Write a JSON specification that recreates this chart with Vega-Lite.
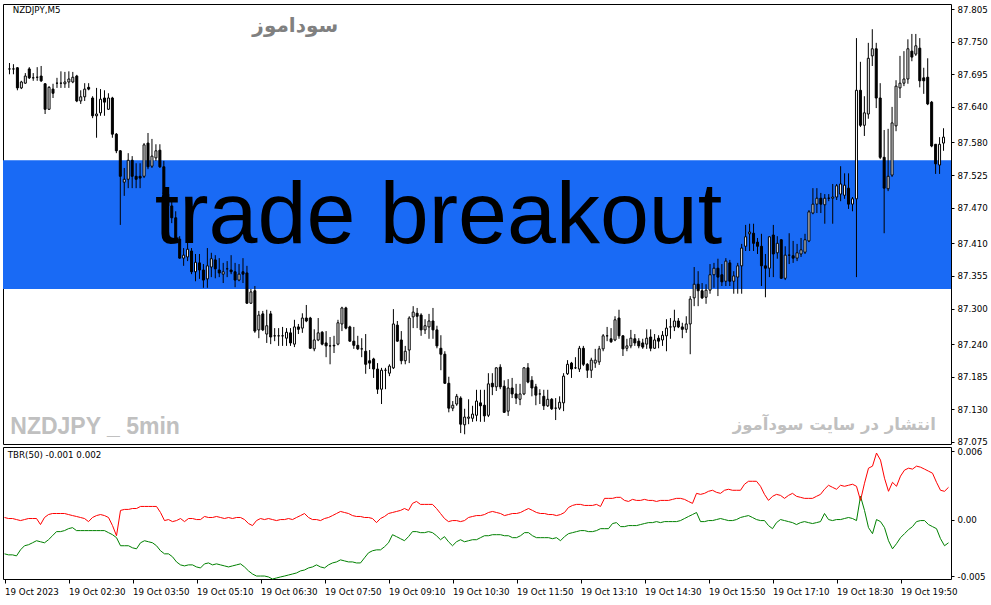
{
"$schema": "https://vega.github.io/schema/vega-lite/v6.json",
"background": "white",
"padding": {"left": 2, "top": 3, "right": 0, "bottom": 0},
"spacing": 3,
"bounds": "flush",
"config": {"view": {"stroke": "black", "strokeWidth": 1}, "axis": {"labelFont": "DejaVu Sans", "labelFontSize": 8.7, "labelColor": "black", "tickColor": "black", "domain": false, "grid": false, "labelOverlap": false}},
"datasets": {
"band": [{"lo": 87.333, "hi": 87.55}],
"notes": [
{"label":"NZDJPY,M5","t":"2023-10-19T01:14","p":87.803},
{"label":"سوداموز","t":"2023-10-19T07:11","p":87.776},
{"label":"trade breakout","t":"2023-10-19T10:12","p":87.41},
{"label":"NZDJPY _ 5min","t":"2023-10-19T01:11","p":87.088},
{"label":"انتشار در سایت سودآموز","t":"2023-10-19T18:32","p":87.104},
{"label":"TBR(50) -0.001 0.002","t":"2023-10-19T01:14","v":0.00566}
],
"bars": [
{"t":"2023-10-19T01:10","o":87.704,"h":87.714,"l":87.695,"c":87.704,"r":0.00018,"g":-0.00301},
{"t":"2023-10-19T01:15","o":87.704,"h":87.712,"l":87.695,"c":87.704,"r":0.00009,"g":-0.0031},
{"t":"2023-10-19T01:20","o":87.706,"h":87.707,"l":87.668,"c":87.672,"r":0.00009,"g":-0.0031},
{"t":"2023-10-19T01:25","o":87.672,"h":87.684,"l":87.670,"c":87.682,"r":0,"g":-0.00319},
{"t":"2023-10-19T01:30","o":87.680,"h":87.697,"l":87.679,"c":87.692,"r":-0.00009,"g":-0.00266},
{"t":"2023-10-19T01:35","o":87.704,"h":87.707,"l":87.687,"c":87.689,"r":0,"g":-0.0023},
{"t":"2023-10-19T01:40","o":87.689,"h":87.697,"l":87.684,"c":87.689,"r":0.00009,"g":-0.00221},
{"t":"2023-10-19T01:45","o":87.690,"h":87.707,"l":87.684,"c":87.690,"r":0.00009,"g":-0.00204},
{"t":"2023-10-19T01:50","o":87.692,"h":87.709,"l":87.682,"c":87.684,"r":0.00009,"g":-0.00186},
{"t":"2023-10-19T01:55","o":87.679,"h":87.680,"l":87.628,"c":87.636,"r":-0.00044,"g":-0.00195},
{"t":"2023-10-19T02:00","o":87.636,"h":87.675,"l":87.635,"c":87.673,"r":0.00018,"g":-0.00204},
{"t":"2023-10-19T02:05","o":87.670,"h":87.679,"l":87.655,"c":87.663,"r":0.00044,"g":-0.00177},
{"t":"2023-10-19T02:10","o":87.680,"h":87.689,"l":87.672,"c":87.680,"r":0.00053,"g":-0.00142},
{"t":"2023-10-19T02:15","o":87.680,"h":87.700,"l":87.672,"c":87.680,"r":0.00053,"g":-0.00106},
{"t":"2023-10-19T02:20","o":87.679,"h":87.699,"l":87.672,"c":87.682,"r":0.00053,"g":-0.00106},
{"t":"2023-10-19T02:25","o":87.682,"h":87.700,"l":87.672,"c":87.687,"r":0.00053,"g":-0.00097},
{"t":"2023-10-19T02:30","o":87.682,"h":87.699,"l":87.680,"c":87.690,"r":0.00044,"g":-0.0008},
{"t":"2023-10-19T02:35","o":87.692,"h":87.694,"l":87.648,"c":87.650,"r":0.00035,"g":-0.00071},
{"t":"2023-10-19T02:40","o":87.650,"h":87.668,"l":87.645,"c":87.657,"r":0.00027,"g":-0.00097},
{"t":"2023-10-19T02:45","o":87.657,"h":87.680,"l":87.650,"c":87.670,"r":0.00018,"g":-0.00097},
{"t":"2023-10-19T02:50","o":87.673,"h":87.680,"l":87.668,"c":87.670,"r":0.00009,"g":-0.00097},
{"t":"2023-10-19T02:55","o":87.655,"h":87.658,"l":87.621,"c":87.625,"r":-0.00018,"g":-0.00097},
{"t":"2023-10-19T03:00","o":87.625,"h":87.672,"l":87.588,"c":87.628,"r":0.00018,"g":-0.00097},
{"t":"2023-10-19T03:05","o":87.630,"h":87.670,"l":87.625,"c":87.653,"r":0.00035,"g":-0.00097},
{"t":"2023-10-19T03:10","o":87.655,"h":87.668,"l":87.625,"c":87.648,"r":0.00044,"g":-0.00097},
{"t":"2023-10-19T03:15","o":87.636,"h":87.663,"l":87.635,"c":87.655,"r":0.00035,"g":-0.00097},
{"t":"2023-10-19T03:20","o":87.655,"h":87.657,"l":87.588,"c":87.594,"r":0.00018,"g":-0.00115},
{"t":"2023-10-19T03:25","o":87.594,"h":87.596,"l":87.562,"c":87.566,"r":-0.00053,"g":-0.00133},
{"t":"2023-10-19T03:30","o":87.566,"h":87.567,"l":87.441,"c":87.523,"r":-0.00142,"g":-0.00159},
{"t":"2023-10-19T03:35","o":87.513,"h":87.537,"l":87.490,"c":87.518,"r":0.0008,"g":-0.0023},
{"t":"2023-10-19T03:40","o":87.518,"h":87.562,"l":87.503,"c":87.550,"r":0.00089,"g":-0.0023},
{"t":"2023-10-19T03:45","o":87.550,"h":87.557,"l":87.503,"c":87.523,"r":0.00089,"g":-0.0023},
{"t":"2023-10-19T03:50","o":87.523,"h":87.545,"l":87.503,"c":87.518,"r":0.00097,"g":-0.00248},
{"t":"2023-10-19T03:55","o":87.523,"h":87.545,"l":87.503,"c":87.520,"r":0.00097,"g":-0.00257},
{"t":"2023-10-19T04:00","o":87.523,"h":87.579,"l":87.520,"c":87.576,"r":0.00115,"g":-0.00204},
{"t":"2023-10-19T04:05","o":87.579,"h":87.596,"l":87.535,"c":87.539,"r":0.00115,"g":-0.00186},
{"t":"2023-10-19T04:10","o":87.540,"h":87.586,"l":87.537,"c":87.557,"r":0.00115,"g":-0.00195},
{"t":"2023-10-19T04:15","o":87.554,"h":87.577,"l":87.549,"c":87.566,"r":0.00115,"g":-0.00204},
{"t":"2023-10-19T04:20","o":87.567,"h":87.577,"l":87.537,"c":87.539,"r":0.00115,"g":-0.0023},
{"t":"2023-10-19T04:25","o":87.539,"h":87.549,"l":87.490,"c":87.493,"r":0.00062,"g":-0.00274},
{"t":"2023-10-19T04:30","o":87.493,"h":87.502,"l":87.464,"c":87.473,"r":-0.00009,"g":-0.00301},
{"t":"2023-10-19T04:35","o":87.473,"h":87.481,"l":87.444,"c":87.453,"r":0,"g":-0.00301},
{"t":"2023-10-19T04:40","o":87.453,"h":87.464,"l":87.414,"c":87.417,"r":-0.00018,"g":-0.00327},
{"t":"2023-10-19T04:45","o":87.417,"h":87.422,"l":87.384,"c":87.385,"r":-0.00009,"g":-0.00372},
{"t":"2023-10-19T04:50","o":87.385,"h":87.402,"l":87.372,"c":87.390,"r":0.00009,"g":-0.00398},
{"t":"2023-10-19T04:55","o":87.387,"h":87.422,"l":87.380,"c":87.400,"r":-0.00018,"g":-0.00407},
{"t":"2023-10-19T05:00","o":87.397,"h":87.402,"l":87.358,"c":87.362,"r":0.00009,"g":-0.00398},
{"t":"2023-10-19T05:05","o":87.362,"h":87.392,"l":87.346,"c":87.378,"r":0.00009,"g":-0.00398},
{"t":"2023-10-19T05:10","o":87.377,"h":87.392,"l":87.350,"c":87.365,"r":0,"g":-0.00416},
{"t":"2023-10-19T05:15","o":87.365,"h":87.375,"l":87.335,"c":87.348,"r":0,"g":-0.00425},
{"t":"2023-10-19T05:20","o":87.350,"h":87.402,"l":87.335,"c":87.372,"r":0.00027,"g":-0.00389},
{"t":"2023-10-19T05:25","o":87.370,"h":87.394,"l":87.353,"c":87.384,"r":0.00018,"g":-0.00381},
{"t":"2023-10-19T05:30","o":87.382,"h":87.390,"l":87.351,"c":87.367,"r":0.00018,"g":-0.00398},
{"t":"2023-10-19T05:35","o":87.365,"h":87.385,"l":87.353,"c":87.360,"r":0.00027,"g":-0.00389},
{"t":"2023-10-19T05:40","o":87.358,"h":87.377,"l":87.343,"c":87.362,"r":0.00018,"g":-0.00398},
{"t":"2023-10-19T05:45","o":87.367,"h":87.380,"l":87.353,"c":87.367,"r":0.00009,"g":-0.00407},
{"t":"2023-10-19T05:50","o":87.365,"h":87.390,"l":87.358,"c":87.362,"r":0.00018,"g":-0.00416},
{"t":"2023-10-19T05:55","o":87.362,"h":87.377,"l":87.336,"c":87.348,"r":0.00009,"g":-0.00407},
{"t":"2023-10-19T06:00","o":87.348,"h":87.375,"l":87.346,"c":87.358,"r":0.00018,"g":-0.00398},
{"t":"2023-10-19T06:05","o":87.362,"h":87.385,"l":87.343,"c":87.358,"r":0.00018,"g":-0.00389},
{"t":"2023-10-19T06:10","o":87.360,"h":87.372,"l":87.308,"c":87.309,"r":0,"g":-0.00416},
{"t":"2023-10-19T06:15","o":87.309,"h":87.333,"l":87.308,"c":87.328,"r":-0.00035,"g":-0.00451},
{"t":"2023-10-19T06:20","o":87.330,"h":87.338,"l":87.259,"c":87.262,"r":-0.00053,"g":-0.00478},
{"t":"2023-10-19T06:25","o":87.264,"h":87.296,"l":87.250,"c":87.289,"r":-0.00009,"g":-0.00496},
{"t":"2023-10-19T06:30","o":87.291,"h":87.296,"l":87.262,"c":87.264,"r":0.00009,"g":-0.00496},
{"t":"2023-10-19T06:35","o":87.257,"h":87.298,"l":87.242,"c":87.271,"r":0,"g":-0.00496},
{"t":"2023-10-19T06:40","o":87.291,"h":87.296,"l":87.240,"c":87.252,"r":0.00009,"g":-0.00504},
{"t":"2023-10-19T06:45","o":87.254,"h":87.267,"l":87.245,"c":87.254,"r":0,"g":-0.00522},
{"t":"2023-10-19T06:50","o":87.254,"h":87.267,"l":87.237,"c":87.254,"r":-0.00009,"g":-0.00513},
{"t":"2023-10-19T06:55","o":87.254,"h":87.269,"l":87.237,"c":87.254,"r":0,"g":-0.00504},
{"t":"2023-10-19T07:00","o":87.250,"h":87.267,"l":87.237,"c":87.260,"r":0,"g":-0.00496},
{"t":"2023-10-19T07:05","o":87.259,"h":87.267,"l":87.237,"c":87.242,"r":0.00009,"g":-0.00487},
{"t":"2023-10-19T07:10","o":87.240,"h":87.281,"l":87.235,"c":87.269,"r":0,"g":-0.00478},
{"t":"2023-10-19T07:15","o":87.269,"h":87.274,"l":87.257,"c":87.265,"r":0.00018,"g":-0.00469},
{"t":"2023-10-19T07:20","o":87.267,"h":87.292,"l":87.259,"c":87.284,"r":0.00035,"g":-0.00451},
{"t":"2023-10-19T07:25","o":87.284,"h":87.306,"l":87.277,"c":87.279,"r":0.00053,"g":-0.00443},
{"t":"2023-10-19T07:30","o":87.284,"h":87.286,"l":87.232,"c":87.233,"r":0.00018,"g":-0.00425},
{"t":"2023-10-19T07:35","o":87.232,"h":87.265,"l":87.228,"c":87.247,"r":0,"g":-0.00416},
{"t":"2023-10-19T07:40","o":87.247,"h":87.284,"l":87.245,"c":87.259,"r":0,"g":-0.00398},
{"t":"2023-10-19T07:45","o":87.260,"h":87.262,"l":87.238,"c":87.240,"r":-0.00009,"g":-0.00416},
{"t":"2023-10-19T07:50","o":87.242,"h":87.262,"l":87.218,"c":87.237,"r":0.00009,"g":-0.00425},
{"t":"2023-10-19T07:55","o":87.237,"h":87.252,"l":87.206,"c":87.237,"r":0.00018,"g":-0.00398},
{"t":"2023-10-19T08:00","o":87.238,"h":87.254,"l":87.225,"c":87.237,"r":0.00035,"g":-0.00381},
{"t":"2023-10-19T08:05","o":87.240,"h":87.281,"l":87.238,"c":87.276,"r":0.00053,"g":-0.00372},
{"t":"2023-10-19T08:10","o":87.274,"h":87.303,"l":87.262,"c":87.301,"r":0.00071,"g":-0.00354},
{"t":"2023-10-19T08:15","o":87.301,"h":87.303,"l":87.265,"c":87.267,"r":0.00062,"g":-0.00363},
{"t":"2023-10-19T08:20","o":87.269,"h":87.271,"l":87.244,"c":87.245,"r":0.00053,"g":-0.00372},
{"t":"2023-10-19T08:25","o":87.245,"h":87.269,"l":87.232,"c":87.238,"r":0.00035,"g":-0.00372},
{"t":"2023-10-19T08:30","o":87.238,"h":87.254,"l":87.230,"c":87.232,"r":0.00027,"g":-0.00381},
{"t":"2023-10-19T08:35","o":87.232,"h":87.250,"l":87.218,"c":87.232,"r":0.00027,"g":-0.00381},
{"t":"2023-10-19T08:40","o":87.228,"h":87.257,"l":87.190,"c":87.206,"r":0.00018,"g":-0.00336},
{"t":"2023-10-19T08:45","o":87.212,"h":87.230,"l":87.198,"c":87.208,"r":0.00018,"g":-0.00292},
{"t":"2023-10-19T08:50","o":87.215,"h":87.217,"l":87.183,"c":87.198,"r":0.00009,"g":-0.00274},
{"t":"2023-10-19T08:55","o":87.198,"h":87.208,"l":87.156,"c":87.164,"r":-0.00027,"g":-0.00266},
{"t":"2023-10-19T09:00","o":87.164,"h":87.200,"l":87.139,"c":87.196,"r":0.00009,"g":-0.00266},
{"t":"2023-10-19T09:05","o":87.196,"h":87.200,"l":87.164,"c":87.196,"r":0.00027,"g":-0.00239},
{"t":"2023-10-19T09:10","o":87.191,"h":87.206,"l":87.186,"c":87.203,"r":0.00053,"g":-0.00204},
{"t":"2023-10-19T09:15","o":87.200,"h":87.299,"l":87.198,"c":87.274,"r":0.00062,"g":-0.00133},
{"t":"2023-10-19T09:20","o":87.272,"h":87.279,"l":87.244,"c":87.245,"r":0.00071,"g":-0.0015},
{"t":"2023-10-19T09:25","o":87.247,"h":87.262,"l":87.206,"c":87.212,"r":0.0008,"g":-0.00168},
{"t":"2023-10-19T09:30","o":87.212,"h":87.237,"l":87.206,"c":87.228,"r":0.00097,"g":-0.00186},
{"t":"2023-10-19T09:35","o":87.230,"h":87.287,"l":87.208,"c":87.284,"r":0.0008,"g":-0.0015},
{"t":"2023-10-19T09:40","o":87.286,"h":87.304,"l":87.267,"c":87.294,"r":0.00142,"g":-0.00106},
{"t":"2023-10-19T09:45","o":87.292,"h":87.301,"l":87.267,"c":87.287,"r":0.00159,"g":-0.00106},
{"t":"2023-10-19T09:50","o":87.289,"h":87.292,"l":87.254,"c":87.264,"r":0.00133,"g":-0.00115},
{"t":"2023-10-19T09:55","o":87.264,"h":87.282,"l":87.257,"c":87.271,"r":0.00133,"g":-0.00115},
{"t":"2023-10-19T10:00","o":87.269,"h":87.291,"l":87.249,"c":87.279,"r":0.00133,"g":-0.00106},
{"t":"2023-10-19T10:05","o":87.279,"h":87.301,"l":87.249,"c":87.264,"r":0.00133,"g":-0.00115},
{"t":"2023-10-19T10:10","o":87.264,"h":87.271,"l":87.233,"c":87.237,"r":0.00097,"g":-0.00142},
{"t":"2023-10-19T10:15","o":87.233,"h":87.255,"l":87.196,"c":87.223,"r":0.00053,"g":-0.00177},
{"t":"2023-10-19T10:20","o":87.223,"h":87.228,"l":87.173,"c":87.174,"r":0.00009,"g":-0.0015},
{"t":"2023-10-19T10:25","o":87.174,"h":87.185,"l":87.125,"c":87.132,"r":-0.00018,"g":-0.00195},
{"t":"2023-10-19T10:30","o":87.132,"h":87.144,"l":87.127,"c":87.137,"r":-0.00009,"g":-0.0023},
{"t":"2023-10-19T10:35","o":87.139,"h":87.156,"l":87.136,"c":87.152,"r":-0.00009,"g":-0.00195},
{"t":"2023-10-19T10:40","o":87.149,"h":87.152,"l":87.090,"c":87.105,"r":-0.00018,"g":-0.00177},
{"t":"2023-10-19T10:45","o":87.104,"h":87.131,"l":87.088,"c":87.117,"r":-0.00009,"g":-0.00195},
{"t":"2023-10-19T10:50","o":87.115,"h":87.147,"l":87.105,"c":87.117,"r":0.00018,"g":-0.00186},
{"t":"2023-10-19T10:55","o":87.115,"h":87.136,"l":87.109,"c":87.122,"r":0.00027,"g":-0.00177},
{"t":"2023-10-19T11:00","o":87.120,"h":87.163,"l":87.110,"c":87.144,"r":0.00035,"g":-0.00177},
{"t":"2023-10-19T11:05","o":87.141,"h":87.163,"l":87.109,"c":87.136,"r":0.00035,"g":-0.00159},
{"t":"2023-10-19T11:10","o":87.137,"h":87.163,"l":87.109,"c":87.119,"r":0.00044,"g":-0.00142},
{"t":"2023-10-19T11:15","o":87.120,"h":87.191,"l":87.117,"c":87.173,"r":0.00062,"g":-0.00142},
{"t":"2023-10-19T11:20","o":87.174,"h":87.191,"l":87.154,"c":87.168,"r":0.00071,"g":-0.00133},
{"t":"2023-10-19T11:25","o":87.168,"h":87.201,"l":87.161,"c":87.200,"r":0.00062,"g":-0.00133},
{"t":"2023-10-19T11:30","o":87.201,"h":87.206,"l":87.164,"c":87.168,"r":0.00053,"g":-0.00133},
{"t":"2023-10-19T11:35","o":87.169,"h":87.179,"l":87.124,"c":87.125,"r":0.00035,"g":-0.00142},
{"t":"2023-10-19T11:40","o":87.127,"h":87.181,"l":87.119,"c":87.166,"r":0.00044,"g":-0.00142},
{"t":"2023-10-19T11:45","o":87.166,"h":87.183,"l":87.149,"c":87.156,"r":0.00053,"g":-0.00159},
{"t":"2023-10-19T11:50","o":87.156,"h":87.173,"l":87.139,"c":87.149,"r":0.00053,"g":-0.00159},
{"t":"2023-10-19T11:55","o":87.147,"h":87.173,"l":87.137,"c":87.156,"r":0.00062,"g":-0.00142},
{"t":"2023-10-19T12:00","o":87.156,"h":87.201,"l":87.154,"c":87.200,"r":0.0008,"g":-0.00115},
{"t":"2023-10-19T12:05","o":87.200,"h":87.208,"l":87.174,"c":87.176,"r":0.00097,"g":-0.00115},
{"t":"2023-10-19T12:10","o":87.179,"h":87.186,"l":87.152,"c":87.166,"r":0.0008,"g":-0.00142},
{"t":"2023-10-19T12:15","o":87.168,"h":87.173,"l":87.137,"c":87.154,"r":0.00062,"g":-0.00159},
{"t":"2023-10-19T12:20","o":87.156,"h":87.164,"l":87.139,"c":87.156,"r":0.00053,"g":-0.00159},
{"t":"2023-10-19T12:25","o":87.152,"h":87.163,"l":87.129,"c":87.136,"r":0.00053,"g":-0.00159},
{"t":"2023-10-19T12:30","o":87.136,"h":87.163,"l":87.134,"c":87.147,"r":0.00044,"g":-0.00159},
{"t":"2023-10-19T12:35","o":87.147,"h":87.149,"l":87.129,"c":87.131,"r":0.00044,"g":-0.00168},
{"t":"2023-10-19T12:40","o":87.132,"h":87.149,"l":87.112,"c":87.132,"r":0.00035,"g":-0.00159},
{"t":"2023-10-19T12:45","o":87.132,"h":87.152,"l":87.129,"c":87.142,"r":0.00044,"g":-0.00186},
{"t":"2023-10-19T12:50","o":87.141,"h":87.191,"l":87.127,"c":87.186,"r":0.00062,"g":-0.0015},
{"t":"2023-10-19T12:55","o":87.190,"h":87.213,"l":87.188,"c":87.206,"r":0.00106,"g":-0.00124},
{"t":"2023-10-19T13:00","o":87.208,"h":87.210,"l":87.183,"c":87.198,"r":0.00124,"g":-0.00115},
{"t":"2023-10-19T13:05","o":87.200,"h":87.218,"l":87.198,"c":87.200,"r":0.00133,"g":-0.00106},
{"t":"2023-10-19T13:10","o":87.198,"h":87.237,"l":87.193,"c":87.233,"r":0.00133,"g":-0.00097},
{"t":"2023-10-19T13:15","o":87.233,"h":87.237,"l":87.203,"c":87.206,"r":0.00124,"g":-0.00097},
{"t":"2023-10-19T13:20","o":87.206,"h":87.208,"l":87.183,"c":87.196,"r":0.00124,"g":-0.00106},
{"t":"2023-10-19T13:25","o":87.196,"h":87.217,"l":87.183,"c":87.213,"r":0.00124,"g":-0.00106},
{"t":"2023-10-19T13:30","o":87.208,"h":87.232,"l":87.200,"c":87.213,"r":0.00133,"g":-0.00097},
{"t":"2023-10-19T13:35","o":87.210,"h":87.237,"l":87.205,"c":87.232,"r":0.00115,"g":-0.0008},
{"t":"2023-10-19T13:40","o":87.232,"h":87.257,"l":87.228,"c":87.254,"r":0.00186,"g":-0.0008},
{"t":"2023-10-19T13:45","o":87.254,"h":87.269,"l":87.245,"c":87.254,"r":0.00186,"g":-0.0008},
{"t":"2023-10-19T13:50","o":87.249,"h":87.267,"l":87.242,"c":87.244,"r":0.00186,"g":-0.00035},
{"t":"2023-10-19T13:55","o":87.247,"h":87.287,"l":87.245,"c":87.281,"r":0.00195,"g":-0.00027},
{"t":"2023-10-19T14:00","o":87.284,"h":87.298,"l":87.249,"c":87.254,"r":0.00195,"g":-0.00062},
{"t":"2023-10-19T14:05","o":87.254,"h":87.255,"l":87.220,"c":87.232,"r":0.00168,"g":-0.00062},
{"t":"2023-10-19T14:10","o":87.233,"h":87.249,"l":87.228,"c":87.237,"r":0.00159,"g":-0.00053},
{"t":"2023-10-19T14:15","o":87.237,"h":87.264,"l":87.233,"c":87.250,"r":0.00177,"g":-0.00053},
{"t":"2023-10-19T14:20","o":87.249,"h":87.257,"l":87.237,"c":87.242,"r":0.00168,"g":-0.00053},
{"t":"2023-10-19T14:25","o":87.245,"h":87.250,"l":87.233,"c":87.237,"r":0.00168,"g":-0.00044},
{"t":"2023-10-19T14:30","o":87.242,"h":87.249,"l":87.232,"c":87.235,"r":0.00177,"g":-0.00035},
{"t":"2023-10-19T14:35","o":87.240,"h":87.265,"l":87.232,"c":87.250,"r":0.00168,"g":-0.00027},
{"t":"2023-10-19T14:40","o":87.252,"h":87.265,"l":87.228,"c":87.233,"r":0.00168,"g":-0.00027},
{"t":"2023-10-19T14:45","o":87.233,"h":87.257,"l":87.232,"c":87.247,"r":0.00159,"g":-0.00018},
{"t":"2023-10-19T14:50","o":87.250,"h":87.255,"l":87.233,"c":87.245,"r":0.00168,"g":-0.00027},
{"t":"2023-10-19T14:55","o":87.247,"h":87.262,"l":87.237,"c":87.255,"r":0.00168,"g":-0.00018},
{"t":"2023-10-19T15:00","o":87.254,"h":87.282,"l":87.228,"c":87.267,"r":0.00168,"g":-0.00018},
{"t":"2023-10-19T15:05","o":87.269,"h":87.284,"l":87.249,"c":87.269,"r":0.00177,"g":-0.00018},
{"t":"2023-10-19T15:10","o":87.269,"h":87.298,"l":87.262,"c":87.279,"r":0.00186,"g":-0.00018},
{"t":"2023-10-19T15:15","o":87.279,"h":87.284,"l":87.267,"c":87.269,"r":0.00186,"g":-0.00009},
{"t":"2023-10-19T15:20","o":87.269,"h":87.276,"l":87.250,"c":87.265,"r":0.00177,"g":0.00009},
{"t":"2023-10-19T15:25","o":87.265,"h":87.287,"l":87.259,"c":87.274,"r":0.00159,"g":0.00027},
{"t":"2023-10-19T15:30","o":87.274,"h":87.321,"l":87.223,"c":87.316,"r":0.00142,"g":0.00044},
{"t":"2023-10-19T15:35","o":87.318,"h":87.370,"l":87.304,"c":87.341,"r":0.0023,"g":0.00062},
{"t":"2023-10-19T15:40","o":87.341,"h":87.363,"l":87.304,"c":87.330,"r":0.00221,"g":-0.00018},
{"t":"2023-10-19T15:45","o":87.330,"h":87.343,"l":87.316,"c":87.318,"r":0.0023,"g":-0.00018},
{"t":"2023-10-19T15:50","o":87.319,"h":87.341,"l":87.308,"c":87.331,"r":0.00248,"g":-0.00009},
{"t":"2023-10-19T15:55","o":87.331,"h":87.375,"l":87.325,"c":87.357,"r":0.00257,"g":-0.00009},
{"t":"2023-10-19T16:00","o":87.357,"h":87.377,"l":87.335,"c":87.368,"r":0.00239,"g":0},
{"t":"2023-10-19T16:05","o":87.368,"h":87.384,"l":87.321,"c":87.353,"r":0.0023,"g":0.00009},
{"t":"2023-10-19T16:10","o":87.357,"h":87.375,"l":87.338,"c":87.345,"r":0.00257,"g":0},
{"t":"2023-10-19T16:15","o":87.346,"h":87.385,"l":87.338,"c":87.380,"r":0.00266,"g":-0.00009},
{"t":"2023-10-19T16:20","o":87.377,"h":87.382,"l":87.338,"c":87.346,"r":0.00257,"g":-0.00009},
{"t":"2023-10-19T16:25","o":87.346,"h":87.363,"l":87.325,"c":87.355,"r":0.00257,"g":0},
{"t":"2023-10-19T16:30","o":87.353,"h":87.377,"l":87.325,"c":87.372,"r":0.00257,"g":0.00018},
{"t":"2023-10-19T16:35","o":87.372,"h":87.409,"l":87.325,"c":87.402,"r":0.0031,"g":0.00027},
{"t":"2023-10-19T16:40","o":87.405,"h":87.441,"l":87.397,"c":87.421,"r":0.00336,"g":0.00035},
{"t":"2023-10-19T16:45","o":87.426,"h":87.443,"l":87.397,"c":87.429,"r":0.00336,"g":0.00018},
{"t":"2023-10-19T16:50","o":87.427,"h":87.443,"l":87.397,"c":87.410,"r":0.00336,"g":0},
{"t":"2023-10-19T16:55","o":87.412,"h":87.419,"l":87.392,"c":87.405,"r":0.00292,"g":-0.00009},
{"t":"2023-10-19T17:00","o":87.405,"h":87.426,"l":87.338,"c":87.372,"r":0.00221,"g":-0.00009},
{"t":"2023-10-19T17:05","o":87.372,"h":87.392,"l":87.319,"c":87.368,"r":0.00168,"g":-0.00053},
{"t":"2023-10-19T17:10","o":87.368,"h":87.422,"l":87.353,"c":87.421,"r":0.00204,"g":-0.0008},
{"t":"2023-10-19T17:15","o":87.424,"h":87.441,"l":87.353,"c":87.392,"r":0.00221,"g":-0.00027},
{"t":"2023-10-19T17:20","o":87.394,"h":87.422,"l":87.384,"c":87.410,"r":0.00212,"g":0},
{"t":"2023-10-19T17:25","o":87.416,"h":87.417,"l":87.350,"c":87.351,"r":0.00186,"g":-0.00009},
{"t":"2023-10-19T17:30","o":87.351,"h":87.405,"l":87.348,"c":87.390,"r":0.00212,"g":-0.00018},
{"t":"2023-10-19T17:35","o":87.390,"h":87.427,"l":87.375,"c":87.390,"r":0.0023,"g":-0.00027},
{"t":"2023-10-19T17:40","o":87.389,"h":87.414,"l":87.377,"c":87.385,"r":0.00204,"g":-0.00044},
{"t":"2023-10-19T17:45","o":87.385,"h":87.409,"l":87.380,"c":87.394,"r":0.00195,"g":-0.00027},
{"t":"2023-10-19T17:50","o":87.392,"h":87.419,"l":87.387,"c":87.399,"r":0.00186,"g":-0.00018},
{"t":"2023-10-19T17:55","o":87.395,"h":87.426,"l":87.392,"c":87.416,"r":0.00186,"g":-0.00027},
{"t":"2023-10-19T18:00","o":87.414,"h":87.466,"l":87.412,"c":87.463,"r":0.00186,"g":-0.00035},
{"t":"2023-10-19T18:05","o":87.461,"h":87.503,"l":87.459,"c":87.476,"r":0.00204,"g":-0.00027},
{"t":"2023-10-19T18:10","o":87.476,"h":87.503,"l":87.461,"c":87.486,"r":0.00221,"g":-0.00018},
{"t":"2023-10-19T18:15","o":87.486,"h":87.495,"l":87.461,"c":87.476,"r":0.00266,"g":0.00053},
{"t":"2023-10-19T18:20","o":87.475,"h":87.493,"l":87.443,"c":87.486,"r":0.00301,"g":0},
{"t":"2023-10-19T18:25","o":87.486,"h":87.493,"l":87.481,"c":87.486,"r":0.00283,"g":-0.00009},
{"t":"2023-10-19T18:30","o":87.486,"h":87.510,"l":87.443,"c":87.488,"r":0.00266,"g":0},
{"t":"2023-10-19T18:35","o":87.488,"h":87.510,"l":87.483,"c":87.507,"r":0.00301,"g":0},
{"t":"2023-10-19T18:40","o":87.493,"h":87.540,"l":87.481,"c":87.510,"r":0.00292,"g":0.00009},
{"t":"2023-10-19T18:45","o":87.491,"h":87.528,"l":87.485,"c":87.508,"r":0.00301,"g":0.00018},
{"t":"2023-10-19T18:50","o":87.503,"h":87.528,"l":87.468,"c":87.476,"r":0.0031,"g":0.00009},
{"t":"2023-10-19T18:55","o":87.476,"h":87.488,"l":87.464,"c":87.485,"r":0.00292,"g":-0.00009},
{"t":"2023-10-19T19:00","o":87.485,"h":87.756,"l":87.353,"c":87.668,"r":0.00168,"g":0.00204},
{"t":"2023-10-19T19:05","o":87.668,"h":87.716,"l":87.606,"c":87.609,"r":0.00319,"g":0.0008},
{"t":"2023-10-19T19:10","o":87.609,"h":87.658,"l":87.591,"c":87.630,"r":0.00451,"g":-0.00071},
{"t":"2023-10-19T19:15","o":87.628,"h":87.748,"l":87.620,"c":87.722,"r":0.00469,"g":-0.00124},
{"t":"2023-10-19T19:20","o":87.726,"h":87.771,"l":87.709,"c":87.738,"r":0.00584,"g":0},
{"t":"2023-10-19T19:25","o":87.738,"h":87.748,"l":87.638,"c":87.655,"r":0.00522,"g":-0.00018},
{"t":"2023-10-19T19:30","o":87.655,"h":87.680,"l":87.552,"c":87.555,"r":0.00363,"g":-0.00071},
{"t":"2023-10-19T19:35","o":87.555,"h":87.601,"l":87.427,"c":87.503,"r":0.00248,"g":-0.00186},
{"t":"2023-10-19T19:40","o":87.502,"h":87.603,"l":87.498,"c":87.523,"r":0.00327,"g":-0.00257},
{"t":"2023-10-19T19:45","o":87.525,"h":87.640,"l":87.522,"c":87.613,"r":0.00292,"g":-0.00212},
{"t":"2023-10-19T19:50","o":87.608,"h":87.685,"l":87.599,"c":87.675,"r":0.00381,"g":-0.00159},
{"t":"2023-10-19T19:55","o":87.672,"h":87.726,"l":87.655,"c":87.680,"r":0.00434,"g":-0.00124},
{"t":"2023-10-19T20:00","o":87.680,"h":87.734,"l":87.675,"c":87.687,"r":0.00451,"g":-0.00089},
{"t":"2023-10-19T20:05","o":87.687,"h":87.754,"l":87.679,"c":87.738,"r":0.00443,"g":-0.00062},
{"t":"2023-10-19T20:10","o":87.734,"h":87.763,"l":87.717,"c":87.724,"r":0.00469,"g":-0.00018},
{"t":"2023-10-19T20:15","o":87.729,"h":87.763,"l":87.726,"c":87.743,"r":0.0046,"g":-0.00009},
{"t":"2023-10-19T20:20","o":87.739,"h":87.756,"l":87.673,"c":87.684,"r":0.00443,"g":-0.00009},
{"t":"2023-10-19T20:25","o":87.689,"h":87.706,"l":87.662,"c":87.684,"r":0.00425,"g":-0.00044},
{"t":"2023-10-19T20:30","o":87.690,"h":87.722,"l":87.643,"c":87.645,"r":0.00407,"g":-0.00062},
{"t":"2023-10-19T20:35","o":87.648,"h":87.650,"l":87.572,"c":87.574,"r":0.00327,"g":-0.0008},
{"t":"2023-10-19T20:40","o":87.577,"h":87.577,"l":87.527,"c":87.544,"r":0.00257,"g":-0.00168},
{"t":"2023-10-19T20:45","o":87.542,"h":87.589,"l":87.527,"c":87.577,"r":0.00248,"g":-0.0023},
{"t":"2023-10-19T20:50","o":87.579,"h":87.604,"l":87.566,"c":87.589,"r":0.00283,"g":-0.00204}
]
},
"vconcat": [
{
"width": 948,
"height": 440,
"layer": [
{
"data": {"name": "band"},
"mark": {"type": "rect", "color": "#196af5"},
"encoding": {
"y": {"field": "lo", "type": "quantitative", "scale": {"domain": [87.0716, 87.8135], "nice": false, "zero": false}, "axis": {"orient": "right", "title": null, "values": [87.075, 87.13, 87.185, 87.24, 87.3, 87.355, 87.41, 87.47, 87.525, 87.58, 87.64, 87.695, 87.75, 87.805], "tickCount": 30, "format": ".3f", "tickSize": 3, "labelPadding": 3, "labelBaseline": "middle", "labelOverlap": false}},
"y2": {"field": "hi"}
}
},
{
"data": {"name": "bars"},
"mark": {"type": "rule", "color": "black", "strokeWidth": 1},
"encoding": {
"x": {"field": "t", "type": "temporal", "scale": {"domain": [{"year": 2023, "month": "Oct", "date": 19, "hours": 1, "minutes": 8, "seconds": 7, "milliseconds": 500}, {"year": 2023, "month": "Oct", "date": 19, "hours": 20, "minutes": 53, "seconds": 7, "milliseconds": 500}]}, "axis": null},
"y": {"field": "l", "type": "quantitative", "title": null, "axis": {"orient": "right", "tickCount": 30, "labelOverlap": false}},
"y2": {"field": "h"}
}
},
{
"data": {"name": "bars"},
"mark": {"type": "bar", "size": 2, "stroke": "black", "strokeWidth": 1},
"encoding": {
"x": {"field": "t", "type": "temporal", "axis": null},
"y": {"field": "o", "type": "quantitative", "title": null, "axis": {"orient": "right", "tickCount": 30, "labelOverlap": false}},
"y2": {"field": "c"},
"fill": {"condition": {"test": "datum.c >= datum.o", "value": "white"}, "value": "black"}
}
},
{
"data": {"name": "notes"},
"transform": [{"filter": "datum.label == 'trade breakout'"}],
"mark": {"type": "text", "font": "Liberation Sans", "fontSize": 88, "color": "black", "align": "center", "baseline": "alphabetic"},
"encoding": {"x": {"field": "t", "type": "temporal", "axis": null}, "y": {"field": "p", "type": "quantitative", "title": null, "axis": {"orient": "right", "tickCount": 30, "labelOverlap": false}}, "text": {"field": "label"}}
},
{
"data": {"name": "notes"},
"transform": [{"filter": "datum.label == 'NZDJPY,M5'"}],
"mark": {"type": "text", "font": "DejaVu Sans", "fontSize": 8.7, "color": "black", "align": "left", "baseline": "middle"},
"encoding": {"x": {"field": "t", "type": "temporal", "axis": null}, "y": {"field": "p", "type": "quantitative", "title": null, "axis": {"orient": "right", "tickCount": 30, "labelOverlap": false}}, "text": {"field": "label"}}
},
{
"data": {"name": "notes"},
"transform": [{"filter": "datum.label == 'سوداموز'"}],
"mark": {"type": "text", "font": "DejaVu Sans", "fontSize": 20, "fontWeight": "bold", "color": "#808080", "align": "center", "baseline": "middle"},
"encoding": {"x": {"field": "t", "type": "temporal", "axis": null}, "y": {"field": "p", "type": "quantitative", "title": null, "axis": {"orient": "right", "tickCount": 30, "labelOverlap": false}}, "text": {"field": "label"}}
},
{
"data": {"name": "notes"},
"transform": [{"filter": "datum.label == 'NZDJPY _ 5min'"}],
"mark": {"type": "text", "font": "Liberation Sans Narrow, Liberation Sans", "fontSize": 23, "fontWeight": "bold", "color": "#c0c0c0", "align": "left", "baseline": "alphabetic"},
"encoding": {"x": {"field": "t", "type": "temporal", "axis": null}, "y": {"field": "p", "type": "quantitative", "title": null, "axis": {"orient": "right", "tickCount": 30, "labelOverlap": false}}, "text": {"field": "label"}}
},
{
"data": {"name": "notes"},
"transform": [{"filter": "datum.label == 'انتشار در سایت سودآموز'"}],
"mark": {"type": "text", "font": "DejaVu Sans", "fontSize": 16.5, "fontWeight": "bold", "color": "#c0c0c0", "align": "center", "baseline": "middle"},
"encoding": {"x": {"field": "t", "type": "temporal", "axis": null}, "y": {"field": "p", "type": "quantitative", "title": null, "axis": {"orient": "right", "tickCount": 30, "labelOverlap": false}}, "text": {"field": "label"}}
}
]
},
{
"width": 948,
"height": 132,
"layer": [
{
"data": {"name": "bars"},
"mark": {"type": "line", "color": "#008000", "strokeWidth": 1},
"encoding": {
"x": {"field": "t", "type": "temporal", "scale": {"domain": [{"year": 2023, "month": "Oct", "date": 19, "hours": 1, "minutes": 8, "seconds": 7, "milliseconds": 500}, {"year": 2023, "month": "Oct", "date": 19, "hours": 20, "minutes": 53, "seconds": 7, "milliseconds": 500}]}, "axis": {"orient": "bottom", "title": null, "values": [{"year": 2023, "month": "Oct", "date": 19, "hours": 1, "minutes": 10}, {"year": 2023, "month": "Oct", "date": 19, "hours": 2, "minutes": 30}, {"year": 2023, "month": "Oct", "date": 19, "hours": 3, "minutes": 50}, {"year": 2023, "month": "Oct", "date": 19, "hours": 5, "minutes": 10}, {"year": 2023, "month": "Oct", "date": 19, "hours": 6, "minutes": 30}, {"year": 2023, "month": "Oct", "date": 19, "hours": 7, "minutes": 50}, {"year": 2023, "month": "Oct", "date": 19, "hours": 9, "minutes": 10}, {"year": 2023, "month": "Oct", "date": 19, "hours": 10, "minutes": 30}, {"year": 2023, "month": "Oct", "date": 19, "hours": 11, "minutes": 50}, {"year": 2023, "month": "Oct", "date": 19, "hours": 13, "minutes": 10}, {"year": 2023, "month": "Oct", "date": 19, "hours": 14, "minutes": 30}, {"year": 2023, "month": "Oct", "date": 19, "hours": 15, "minutes": 50}, {"year": 2023, "month": "Oct", "date": 19, "hours": 17, "minutes": 10}, {"year": 2023, "month": "Oct", "date": 19, "hours": 18, "minutes": 30}, {"year": 2023, "month": "Oct", "date": 19, "hours": 19, "minutes": 50}], "tickCount": 40, "labelExpr": "timeFormat(datum.value, '%H:%M') == '01:10' ? '19 Oct 2023' : timeFormat(datum.value, '%d %b %H:%M')", "labelAlign": "left", "labelBaseline": "top", "labelPadding": 4, "tickSize": 4, "labelOverlap": false, "labelFlush": false, "labelBound": false}},
"y": {"field": "g", "type": "quantitative", "scale": {"domain": [-0.00522, 0.00637], "nice": false, "zero": false}, "axis": {"orient": "right", "title": null, "values": [-0.005, 0, 0.006], "labelExpr": "datum.value == 0 ? '0.00' : (datum.value < 0 ? '-' + format(-datum.value, '.3f') : format(datum.value, '.3f'))", "tickSize": 3, "labelPadding": 3, "labelBaseline": "middle", "labelOverlap": false}}
}
},
{
"data": {"name": "bars"},
"mark": {"type": "line", "color": "#ff0000", "strokeWidth": 1},
"encoding": {
"x": {"field": "t", "type": "temporal", "title": null},
"y": {"field": "r", "type": "quantitative", "title": null}
}
},
{
"data": {"name": "notes"},
"transform": [{"filter": "datum.label == 'TBR(50) -0.001 0.002'"}],
"mark": {"type": "text", "font": "DejaVu Sans", "fontSize": 8.7, "color": "black", "align": "left", "baseline": "middle"},
"encoding": {"x": {"field": "t", "type": "temporal", "title": null}, "y": {"field": "v", "type": "quantitative", "title": null}, "text": {"field": "label"}}
}
]
}
]
}
